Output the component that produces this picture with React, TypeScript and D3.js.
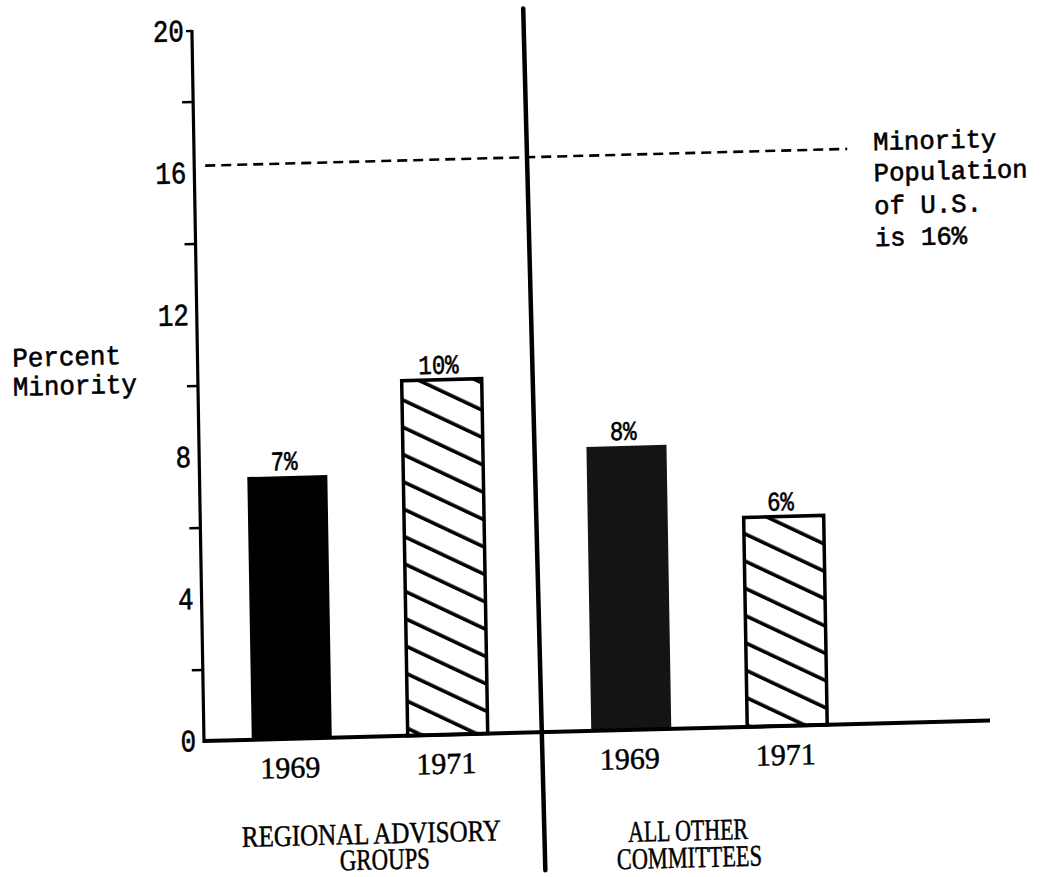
import React from "react";
import * as d3 from "d3";

// ---- data ----
const CATEGORIES = ["REGIONAL ADVISORY GROUPS", "ALL OTHER COMMITTEES"];
const CATEGORY_LINES = [
  ["REGIONAL ADVISORY", "GROUPS"],
  ["ALL OTHER", "COMMITTEES"],
];
const YEARS = ["1969", "1971"];
const VALUES_1969 = [7.4, 8];
const VALUES_1971 = [10, 5.9];
const LABELS_1969 = ["7%", "8%"];
const LABELS_1971 = ["10%", "6%"];
const Y_MAJOR_TICKS = [0, 4, 8, 12, 16, 20];
const Y_MINOR_TICKS = [2, 6, 10, 14, 18];
const REFERENCE_VALUE = 16.2;
const REFERENCE_TEXT = ["Minority", "Population", "of U.S.", "is 16%"];
const Y_TITLE = ["Percent", "Minority"];

const W = 1041;
const H = 877;
const OX = 204;
const OY = 741;

const MONO = "'Liberation Mono', 'DejaVu Sans Mono', monospace";
const SERIF = "'Liberation Serif', 'DejaVu Serif', serif";

export default function App() {
  const y = d3.scaleLinear().domain([0, 20]).range([OY, 31]);
  const xGroup = d3.scaleBand().domain(CATEGORIES).range([200, 879]).padding(0);
  const xYear = d3
    .scaleBand()
    .domain(YEARS)
    .range([0, xGroup.bandwidth()])
    .paddingInner(0.487)
    .paddingOuter(0.332);

  const bars = CATEGORIES.flatMap((c, i) => [
    { cat: c, year: YEARS[0], value: VALUES_1969[i], label: LABELS_1969[i], hatched: false, fill: i === 0 ? "#000" : "#141414" },
    { cat: c, year: YEARS[1], value: VALUES_1971[i], label: LABELS_1971[i], hatched: true, fill: "#fff" },
  ]);

  const bw = xYear.bandwidth();
  const divX = xGroup(CATEGORIES[1]) as number;
  const catLineDx = [
    [0, 13],
    [-23, -22],
  ];
  const catLineY = [
    [848, 874],
    [853, 880],
  ];
  const catLineLen = [
    [259, 90],
    [120, 145],
  ];

  const refY = y(REFERENCE_VALUE);
  const monoInk = { stroke: "#000", strokeWidth: 0.6 };
  const serifInk = { stroke: "#000", strokeWidth: 0.5 };

  return (
    <svg
      width={W}
      height={H}
      style={{ position: "absolute", left: 0, top: 0, background: "#fff" }}
    >
      <defs>
        <pattern
          id="hatch"
          patternUnits="userSpaceOnUse"
          width={12}
          height={24.5}
          patternTransform="rotate(26.6)"
        >
          <line x1={-2} x2={14} y1={8} y2={8} stroke="#000" strokeWidth={3.6} />
        </pattern>
      </defs>
      <rect x={0} y={0} width={W} height={H} fill="#fff" />
      <g transform={`translate(${OX},${OY}) matrix(1,-0.026,0.017,1,0,0) translate(${-OX},${-OY})`}>
        {/* reference dashed line */}
        <line
          x1={215}
          x2={857}
          y1={refY}
          y2={refY}
          stroke="#000"
          strokeWidth={2.6}
          strokeDasharray="10,6"
        />
        {REFERENCE_TEXT.map((t, i) => (
          <text
            key={t}
            x={883}
            y={[refY + 2, refY + 33, refY + 66, refY + 98][i]}
            fontFamily={MONO}
            fontSize={26}
            textLength={t.length * 15.4}
            lengthAdjust="spacingAndGlyphs"
            fill="#000"
            {...monoInk}
          >
            {t}
          </text>
        ))}

        {/* bars */}
        {bars.map((b) => {
          const x0 = (xGroup(b.cat) as number) + (xYear(b.year) as number);
          const top = y(b.value);
          return (
            <g key={b.cat + b.year}>
              {b.hatched ? (
                <>
                  <rect x={x0} y={top} width={bw} height={OY - top} fill="url(#hatch)" />
                  <rect x={x0} y={top} width={bw} height={OY - top} fill="none" stroke="#000" strokeWidth={3.5} />
                </>
              ) : (
                <rect x={x0} y={top} width={bw} height={OY - top} fill={b.fill} />
              )}
              <text
                x={x0 + bw / 2 - 3}
                y={top - 6}
                textAnchor="middle"
                fontFamily={MONO}
                fontSize={27}
                textLength={b.label.length * 13.4}
                lengthAdjust="spacingAndGlyphs"
                fill="#000"
                {...monoInk}
              >
                {b.label}
              </text>
              <text
                x={x0 + bw / 2 - 2}
                y={OY + 39}
                textAnchor="middle"
                fontFamily={SERIF}
                fontSize={30}
                fill="#000"
                {...serifInk}
              >
                {b.year}
              </text>
            </g>
          );
        })}

        {/* y axis */}
        <line x1={OX} x2={OX} y1={y(20) - 1} y2={OY + 2} stroke="#000" strokeWidth={3.2} />
        {Y_MINOR_TICKS.map((t) => (
          <line key={t} x1={OX - 11} x2={OX} y1={y(t)} y2={y(t)} stroke="#000" strokeWidth={2.6} />
        ))}
        <line x1={OX - 6} x2={OX} y1={y(20)} y2={y(20)} stroke="#000" strokeWidth={2.4} />
        {Y_MAJOR_TICKS.map((t) => (
          <text
            key={t}
            x={OX - 8}
            y={y(t) + 10}
            textAnchor="end"
            fontFamily={MONO}
            fontSize={31}
            textLength={String(t).length * 15.5}
            lengthAdjust="spacingAndGlyphs"
            fill="#000"
            {...monoInk}
          >
            {t}
          </text>
        ))}
        {Y_TITLE.map((t, i) => (
          <text
            key={t}
            x={19}
            y={362 + i * 29}
            fontFamily={MONO}
            fontSize={27}
            textLength={t.length * 15.5}
            lengthAdjust="spacingAndGlyphs"
            fill="#000"
            {...monoInk}
          >
            {t}
          </text>
        ))}

        {/* x axis */}
        <line x1={OX - 1} x2={990} y1={OY} y2={OY} stroke="#000" strokeWidth={4} />

        {/* divider */}
        <line x1={divX - 4} x2={divX + 3.5} y1={17} y2={879} stroke="#000" strokeWidth={4.5} strokeLinecap="round" />

        {/* category labels */}
        {CATEGORIES.map((c, i) => {
          const cx = (xGroup(c) as number) + xGroup.bandwidth() / 2;
          return CATEGORY_LINES[i].map((line, j) => (
            <text
              key={c + j}
              x={cx + catLineDx[i][j]}
              y={catLineY[i][j]}
              textAnchor="middle"
              fontFamily={SERIF}
              fontSize={30}
              textLength={catLineLen[i][j]}
              lengthAdjust="spacingAndGlyphs"
              fill="#000"
              {...serifInk}
            >
              {line}
            </text>
          ));
        })}
      </g>
    </svg>
  );
}
